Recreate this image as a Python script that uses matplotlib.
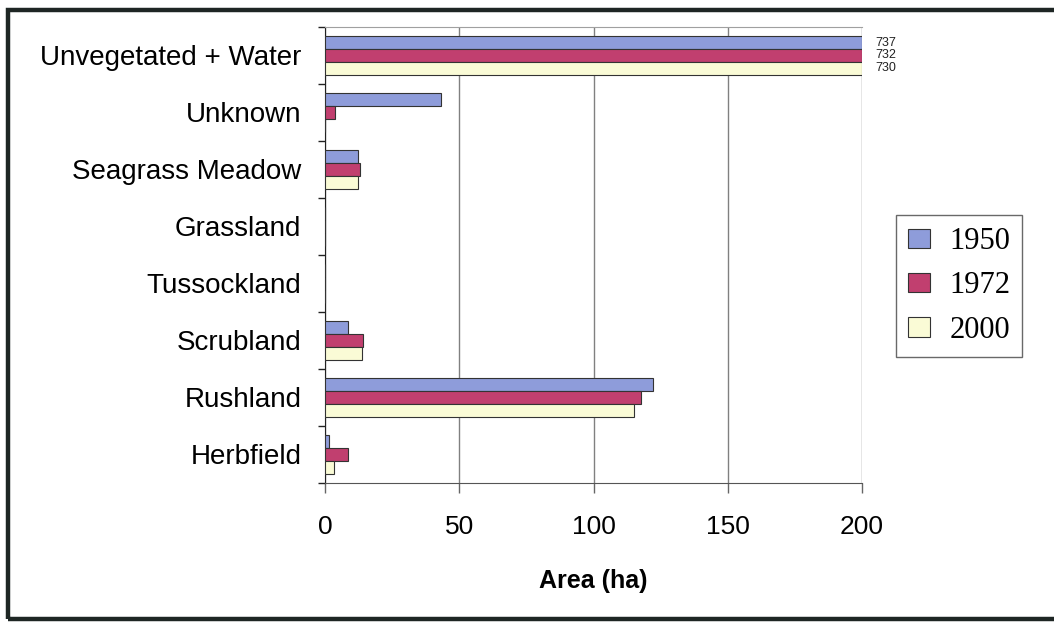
import matplotlib
matplotlib.use("Agg")
import matplotlib.pyplot as plt
import numpy as np
from matplotlib.patches import Rectangle

# Land cover area by class and year (ha)
categories = ["Herbfield", "Rushland", "Scrubland", "Tussockland",
              "Grassland", "Seagrass Meadow", "Unknown", "Unvegetated + Water"]
area_1950 = [1.4, 122, 8.5, 0, 0, 12.2, 43, 737]
area_1972 = [8.4, 117.7, 14.3, 0, 0, 13, 3.7, 732]
area_2000 = [3.2, 115, 13.7, 0, 0, 12.2, 0, 730]
years = ["1950", "1972", "2000"]
x_ticks = [0, 50, 100, 150, 200]
x_max = 200

colors = ["#8e9cda", "#c13f6f", "#fafbd6"]
series = [area_1950, area_1972, area_2000]

plt.rcParams["font.family"] = ["Liberation Sans", "DejaVu Sans"]

fig = plt.figure(figsize=(10.54, 6.24), dpi=100)
ax = fig.add_axes([0.3084, 0.2260, 0.5095, 0.7308])

y = np.arange(len(categories))
h = 0.225
offsets = [h, 0, -h]
for vals, off, col, yr in zip(series, offsets, colors, years):
    clipped = np.minimum(vals, x_max)
    ax.barh(y + off, clipped, height=h, color=col, edgecolor="#333333",
            linewidth=0.8, label=yr, zorder=3)
    # values beyond the axis limit are written next to the clipped bar
    for yi, v in zip(y, vals):
        if v > x_max:
            ax.annotate(f"{v:g}", xy=(x_max, yi + off), xytext=(13, 0),
                        textcoords="offset pixels", va="center", ha="left",
                        fontsize=9, color="#222222", annotation_clip=False)

ax.set_xlim(0, x_max)
ax.set_ylim(-0.5, len(categories) - 0.5)
ax.set_xticks(x_ticks)
ax.set_xticklabels([str(t) for t in x_ticks], fontsize=19)
ax.set_yticks(y)
ax.set_yticklabels(categories, fontsize=20)
ax.set_yticks(np.arange(-0.5, len(categories)), minor=True)
ax.tick_params(axis="y", which="major", length=0, pad=17)
ax.tick_params(axis="y", which="minor", length=5, width=1, color="#222222",
               direction="out")
ax.tick_params(axis="x", which="major", length=7, width=1, color="#666666",
               direction="out", pad=16)

ax.grid(axis="x", color="#808080", linewidth=1, zorder=0)
ax.set_axisbelow(True)
ax.spines["right"].set_visible(False)
ax.spines["top"].set_color("#a0a0a0")
ax.spines["left"].set_color("#222222")
ax.spines["bottom"].set_color("#555555")

ax.set_xlabel("Area (ha)", fontsize=18, fontweight="bold", labelpad=22)

leg = ax.legend(loc="upper left", bbox_to_anchor=(896 / 1054, 1 - 215 / 624),
                bbox_transform=fig.transFigure,
                prop={"family": ["Liberation Serif"], "size": 22},
                frameon=True, fancybox=False, edgecolor="#444444",
                handlelength=0.72, handleheight=0.6, handletextpad=0.62,
                labelspacing=0.5, borderpad=0.4, borderaxespad=0)
leg.get_frame().set_linewidth(1)

# outer frame around the chart
fig.patches.append(Rectangle((7.5 / 1054, 1 - 619 / 624), 1.2, (619 - 9.5) / 624,
                             transform=fig.transFigure, fill=False,
                             edgecolor="#1e2624", linewidth=3.2, zorder=10))

fig.savefig("out.png", dpi=100)
